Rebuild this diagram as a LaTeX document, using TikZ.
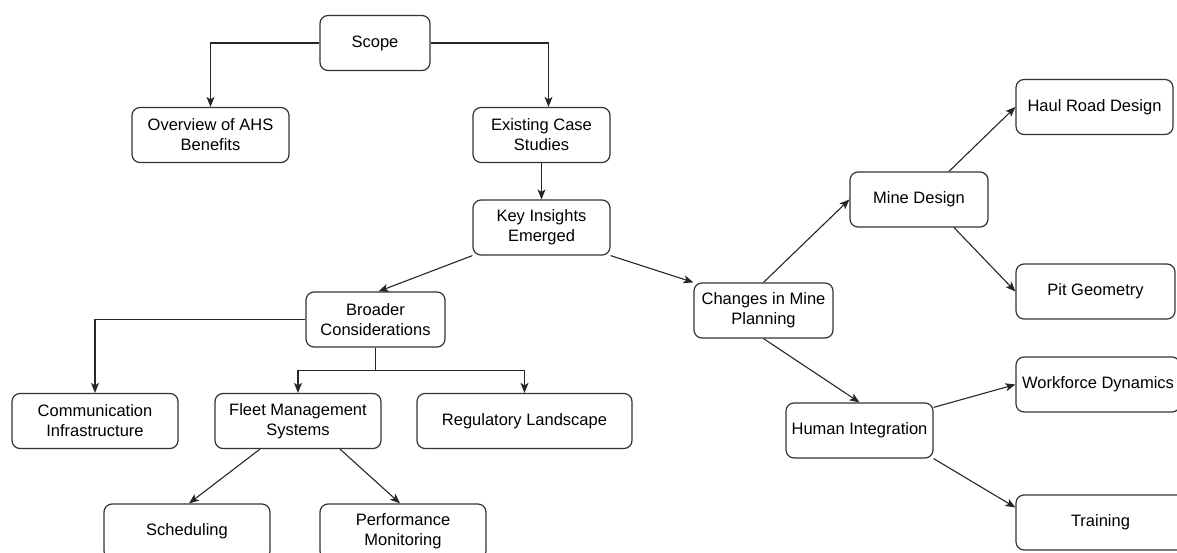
\documentclass[tikz,border=0pt]{standalone}
\usepackage{fontspec}
\setmainfont{Liberation Sans}
\usetikzlibrary{arrows.meta}

\begin{document}
\begin{tikzpicture}[x=1pt, y=-1pt,
  box/.style={draw=black!80, line width=1.2pt, rounded corners=8pt, minimum height=55pt,
    align=center, inner sep=2pt, font=\fontsize{16.5}{20}\selectfont},
  arr/.style={draw=black!85, line width=1.1pt, -{Stealth[length=10pt, width=8pt, inset=2.5pt]}}]
\useasboundingbox (0,0) rectangle (1177,553);
\clip (0,0) rectangle (1177,553);
% top of the tree
\node[box, minimum width=110pt] (scope) at (375,43) {Scope};
\node[box, minimum width=157pt] (overview) at (210.5,135) {Overview of AHS\\Benefits};
\node[box, minimum width=137pt] (existing) at (541.5,135) {Existing Case\\Studies};
\node[box, minimum width=137pt] (insights) at (541.5,227.5) {Key Insights\\Emerged};
% left branch
\node[box, minimum width=139pt] (broader) at (375.5,319.5) {Broader\\Considerations};
\node[box, minimum width=166pt] (comm) at (95,421) {Communication\\Infrastructure};
\node[box, minimum width=166pt] (fleet) at (298,421) {Fleet Management\\Systems};
\node[box, minimum width=215pt] (regulatory) at (524.5,421) {Regulatory Landscape};
\node[box, minimum width=166pt] (scheduling) at (187,531.5) {Scheduling};
\node[box, minimum width=166pt] (performance) at (403,531.5) {Performance\\Monitoring};
% right branch
\node[box, minimum width=139pt] (changes) at (763.5,310.5) {Changes in Mine\\Planning};
\node[box, minimum width=138pt] (minedesign) at (919,199.5) {Mine Design};
\node[box, minimum width=157pt] (haulroad) at (1094.5,107) {Haul Road Design};
\node[box, minimum width=159pt] (pit) at (1095.5,291.5) {Pit Geometry};
\node[box, minimum width=147pt] (human) at (859.5,430.5) {Human Integration};
\node[box, minimum width=164pt] (workforce) at (1098,384.5) {Workforce Dynamics};
\node[box, minimum width=169pt] (training) at (1100.5,522.5) {Training};

\draw[arr] (scope.west) -| (overview.north);
\draw[arr] (scope.east) -| ([xshift=7pt]existing.north);
\draw[arr] (existing) -- (insights);
\draw[arr] (insights.south west) -- ([xshift=3pt]broader.north);
\draw[arr] (insights.south east) -- (changes.north west);
\draw[arr] (broader.west) -| (comm.north);
\draw[arr] (broader.south) -- ++(0,23) -| (fleet.north);
\draw[arr] (broader.south) -- ++(0,23) -| (regulatory.north);
\draw[arr] ([xshift=-38pt]fleet.south) -- ([xshift=2pt]scheduling.north);
\draw[arr] ([xshift=42pt]fleet.south) -- ([xshift=-3pt]performance.north);
\draw[arr] (changes.north) -- (minedesign.west);
\draw[arr] ([xshift=30pt]minedesign.north) -- (haulroad.west);
\draw[arr] ([xshift=35pt]minedesign.south) -- (pit.west);
\draw[arr] (changes.south) -- (human.north);
\draw[arr] ([yshift=-5pt]human.north east) -- (workforce.west);
\draw[arr] (human.south east) -- ([yshift=15pt]training.west);
\end{tikzpicture}
\end{document}
